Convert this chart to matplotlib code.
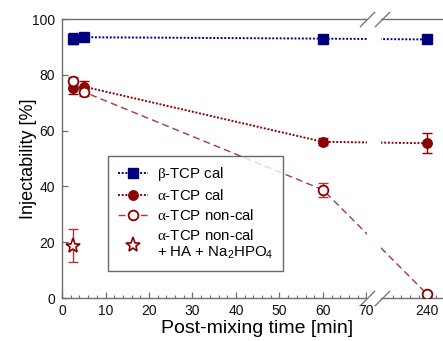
import numpy as np
import matplotlib
matplotlib.use('Agg')
import matplotlib.pyplot as plt
import matplotlib.transforms as mtransforms

plt.rcParams['font.family'] = ['Liberation Sans', 'DejaVu Sans']
plt.rcParams['mathtext.fontset'] = 'custom'
plt.rcParams['mathtext.rm'] = 'Liberation Sans'
plt.rcParams['mathtext.it'] = 'Liberation Serif'

# data
t = [2.5, 5, 60, 240]
beta_cal = [93, 93.5, 93, 92.7]
beta_cal_err = [2, 1, 1, 1]
alpha_cal = [75.3, 75.8, 56, 55.5]
alpha_cal_err = [2, 2, 1.2, 3.6]
alpha_noncal = [77.7, 73.9, 38.8, 1.3]
alpha_noncal_err = [1.5, 1.5, 2.5, 1]
star_t = [2.5]
star_val = [18.8]
star_err = [6]

xticks = [0, 10, 20, 30, 40, 50, 60, 70, 240]

# broken x axis: 70 ... 229 squeezed
B0, B1 = 70.2, 229.4
F0, F1 = 70.2, 73.4

def fwd(x):
    x = np.asarray(x, float)
    mid = F0 + (x - B0) * (F1 - F0) / (B1 - B0)
    return np.where(x <= B0, x, np.where(x >= B1, x - (B1 - F1), mid))

def inv(y):
    y = np.asarray(y, float)
    mid = B0 + (y - F0) * (B1 - B0) / (F1 - F0)
    return np.where(y <= F0, y, np.where(y >= F1, y + (B1 - F1), mid))

navy = '#00007f'
dred = '#8b0000'
lred = '#a83a3a'
spc = '#6e6e6e'

fig = plt.figure(figsize=(4.43, 3.41), dpi=100)
ax = fig.add_axes([0.140, 0.126, 0.860, 0.818])
ax.set_xscale('function', functions=(fwd, inv))

# error bars
ax.errorbar(t, beta_cal, yerr=beta_cal_err, fmt='none', ecolor=navy, elinewidth=1, capsize=3.5, zorder=3)
ax.errorbar(t, alpha_cal, yerr=alpha_cal_err, fmt='none', ecolor=dred, elinewidth=1, capsize=3.5, zorder=3)
ax.errorbar(t, alpha_noncal, yerr=alpha_noncal_err, fmt='none', ecolor=lred, elinewidth=1, capsize=3.5, zorder=3)
ax.errorbar(star_t, star_val, yerr=star_err, fmt='none', ecolor=lred, elinewidth=1, capsize=3.5, zorder=3)

ax.plot(t, beta_cal, color=navy, ls=(0, (1, 0.9)), lw=1.4, marker='s', ms=6.5,
        mfc=navy, mec=navy, label=r'$\beta$-TCP cal', zorder=4)
ax.plot(t, alpha_cal, color=dred, ls=(0, (1, 0.9)), lw=1.4, marker='o', ms=6.8,
        mfc=dred, mec=dred, label=r'$\alpha$-TCP cal', zorder=4)
ax.plot(t, alpha_noncal, color=lred, ls=(0, (5, 3)), lw=1, marker='o', ms=7,
        mfc='white', mec=dred, mew=1.3, label=r'$\alpha$-TCP non-cal', zorder=4)
ax.plot(star_t, star_val, ls='none', marker='*', ms=11, mfc='white', mec=dred, mew=1.2,
        label=r'$\alpha$-TCP non-cal' + '\n+ HA + Na$_2$HPO$_4$', zorder=4)

ax.set_xlim(0, 243.6)
ax.set_ylim(0, 100)
ax.set_xticks(xticks)
ax.set_xticklabels([str(v) for v in xticks])
ax.set_xticks(list(np.arange(0, 71, 2)) + [232, 234, 236, 238, 242], minor=True)
ax.set_yticks([0, 20, 40, 60, 80, 100])
ax.tick_params(which='both', direction='in', colors=spc, labelcolor='#111111', labelsize=10)
ax.tick_params(which='major', length=4, width=0.9)
ax.tick_params(which='minor', length=2.5, width=0.8)
ax.tick_params(axis='y', pad=5)
ax.tick_params(axis='x', pad=4)
for s in ['left', 'bottom', 'top']:
    ax.spines[s].set_color(spc)
    ax.spines[s].set_linewidth(1)
ax.spines['right'].set_visible(False)

ax.set_xlabel('Post-mixing time [min]', fontsize=14)
ax.xaxis.set_label_coords(0.512, -0.077)
ax.set_ylabel('Injectability [%]', fontsize=13, labelpad=-3.5)

# break gap and slashes
ax.axvspan(70.25, 229.1, ymin=-0.02, ymax=1.02, color='white', zorder=5, clip_on=False, lw=0)
trans = mtransforms.blended_transform_factory(ax.transData, ax.transAxes)
for yy in [0, 1]:
    ax.plot([70.3, 229.5], [yy, yy], transform=trans, ls='none', marker=[(-1, -1), (1, 1)],
            ms=11, mec=spc, mew=0.9, clip_on=False, zorder=6)

leg = ax.legend(loc='lower left', bbox_to_anchor=(0.121, 0.097), borderaxespad=0,
                fontsize=10.8, frameon=True, fancybox=False, handlelength=2.0,
                labelspacing=0.32, borderpad=0.65, handletextpad=0.6)
leg.get_frame().set_edgecolor('#444444')
leg.get_frame().set_linewidth(1)
leg.set_zorder(7)

fig.savefig('out.png', dpi=100)
